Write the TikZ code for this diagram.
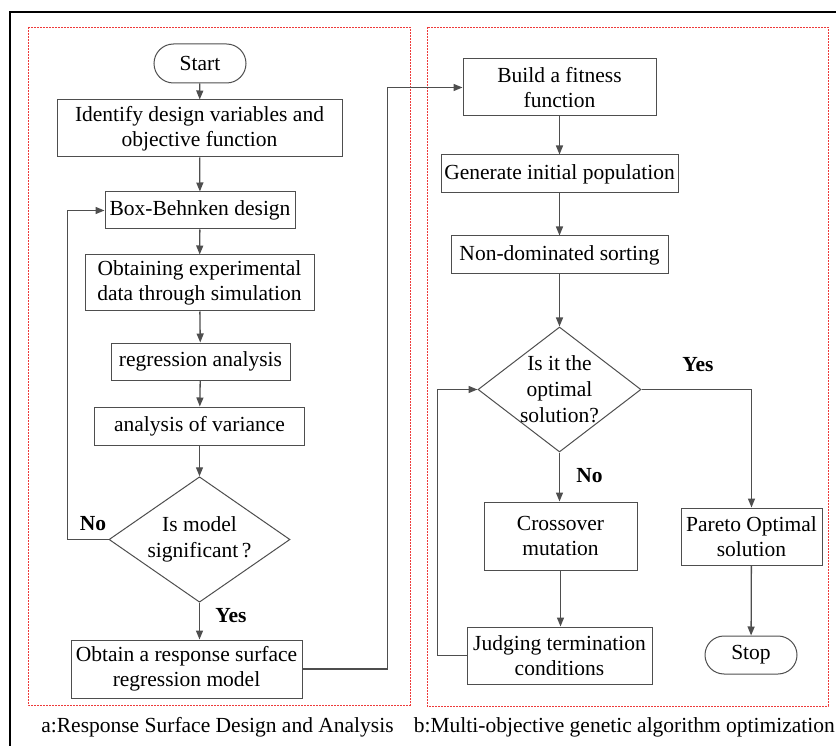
\documentclass[tikz,border=0pt]{standalone}
\usepackage{fontspec}
\setmainfont{Liberation Serif}
\usetikzlibrary{shapes.geometric, shapes.misc, arrows.meta}

\definecolor{linegray}{RGB}{78,78,78}
\definecolor{panelred}{RGB}{238,58,58}

\begin{document}
\begin{tikzpicture}[x=1pt, y=-1pt,
    box/.style={rectangle, draw=linegray, line width=1pt, align=center, inner sep=2pt, font=\fontsize{21.5}{25}\selectfont},
    term/.style={rounded rectangle, draw=linegray, line width=1pt, inner sep=2pt, font=\fontsize{21.5}{25}\selectfont},
    decision/.style={diamond, draw=linegray, line width=1pt, align=center, inner sep=-6pt, font=\fontsize{21.5}{26}\selectfont},
    lbl/.style={font=\fontsize{21.5}{25}\selectfont\bfseries},
    caption/.style={font=\fontsize{21.5}{25}\selectfont},
    panel/.style={draw=panelred, line width=0.8pt, dash pattern=on 2pt off 1pt},
    arrow/.style={-{Triangle[length=9pt, width=7pt]}, draw=linegray, line width=1.3pt}
]

\useasboundingbox (0,0) rectangle (836,746);

% Frame and the two dashed panels
\draw[line width=2.2pt] (10,760) -- (10,12) -- (850,12);
\draw[panel] (28,27) rectangle (410,705);
\draw[panel] (427,27) rectangle (828,706);

% Nodes using absolute positioning (a: response surface)
\node[term, minimum width=96pt, minimum height=39pt] (start) at (200,63.5) {Start};
\node[box, minimum width=285pt, minimum height=57pt] (ident) at (199.5,128.5) {Identify design variables and\\objective function};
\node[box, minimum width=190pt, minimum height=37pt] (bbd) at (200,210.5) {Box-Behnken design};
\node[box, minimum width=229pt, minimum height=56pt] (sim) at (199.5,283) {Obtaining experimental\\data through simulation};
\node[box, minimum width=179pt, minimum height=37pt] (regr) at (200.5,361.5) {regression analysis};
\node[box, minimum width=210pt, minimum height=38pt] (anova) at (199.5,426) {analysis of variance};
\node[decision, minimum width=181pt, minimum height=115pt] (signif) at (199.5,539.5) {Is model\\significant\,?};
\node[box, minimum width=231pt, minimum height=58pt] (rsm) at (186.5,669) {Obtain a response surface\\regression model};

% Nodes (b: genetic algorithm)
\node[box, minimum width=193pt, minimum height=57pt] (fitness) at (559.5,87.5) {Build a fitness\\function};
\node[box, minimum width=237pt, minimum height=38pt] (init) at (559.5,174) {Generate initial population};
\node[box, minimum width=217pt, minimum height=38pt] (sort) at (559.5,255) {Non-dominated sorting};
\node[decision, minimum width=163pt, minimum height=125pt] (optimal) at (559.5,389.5) {Is it the\\optimal\\solution?};
\node[box, minimum width=153pt, minimum height=68pt] (cross) at (560.5,536) {Crossover\\mutation};
\node[box, minimum width=141pt, minimum height=57pt] (pareto) at (751.5,536.5) {Pareto Optimal\\solution};
\node[box, minimum width=185pt, minimum height=57pt] (judge) at (559.5,655.5) {Judging termination\\conditions};
\node[term, minimum width=96pt, minimum height=38pt] (stop) at (751,655) {Stop};

% Branch labels and captions
\node[lbl] (no1) at (93,524) {No};
\node[lbl] (yes1) at (231,616) {Yes};
\node[lbl] (yes2) at (698,365) {Yes};
\node[lbl] (no2) at (589.5,476) {No};
\node[caption] (capa) at (217.5,727) {a:Response Surface Design and Analysis};
\node[caption, anchor=east, inner sep=0pt] (capb) at (835,727) {b:Multi-objective genetic algorithm optimization};

% Arrows
\draw[arrow] (start) -- (ident);
\draw[arrow] (ident) -- (bbd);
\draw[arrow] (bbd) -- (sim);
\draw[arrow] (sim) -- (regr);
\draw[arrow] (regr) -- (anova);
\draw[arrow] (anova) -- (signif);
\draw[arrow] (signif.south) -- (signif.south |- rsm.north);
\draw[arrow] (signif.west) -- ++(-41,0) |- (bbd.west);
\draw[arrow] (rsm.east) -- ++(85,0) |- (fitness.west);
\draw[arrow] (fitness) -- (init);
\draw[arrow] (init) -- (sort);
\draw[arrow] (sort) -- (optimal);
\draw[arrow] (optimal.east) -| (pareto.north);
\draw[arrow] (optimal.south) -- (optimal.south |- cross.north);
\draw[arrow] (cross.south) -- (cross.south |- judge.north);
\draw[arrow] (judge.west) -- ++(-29,0) |- (optimal.west);
\draw[arrow] (pareto) -- (stop);

\end{tikzpicture}
\end{document}
